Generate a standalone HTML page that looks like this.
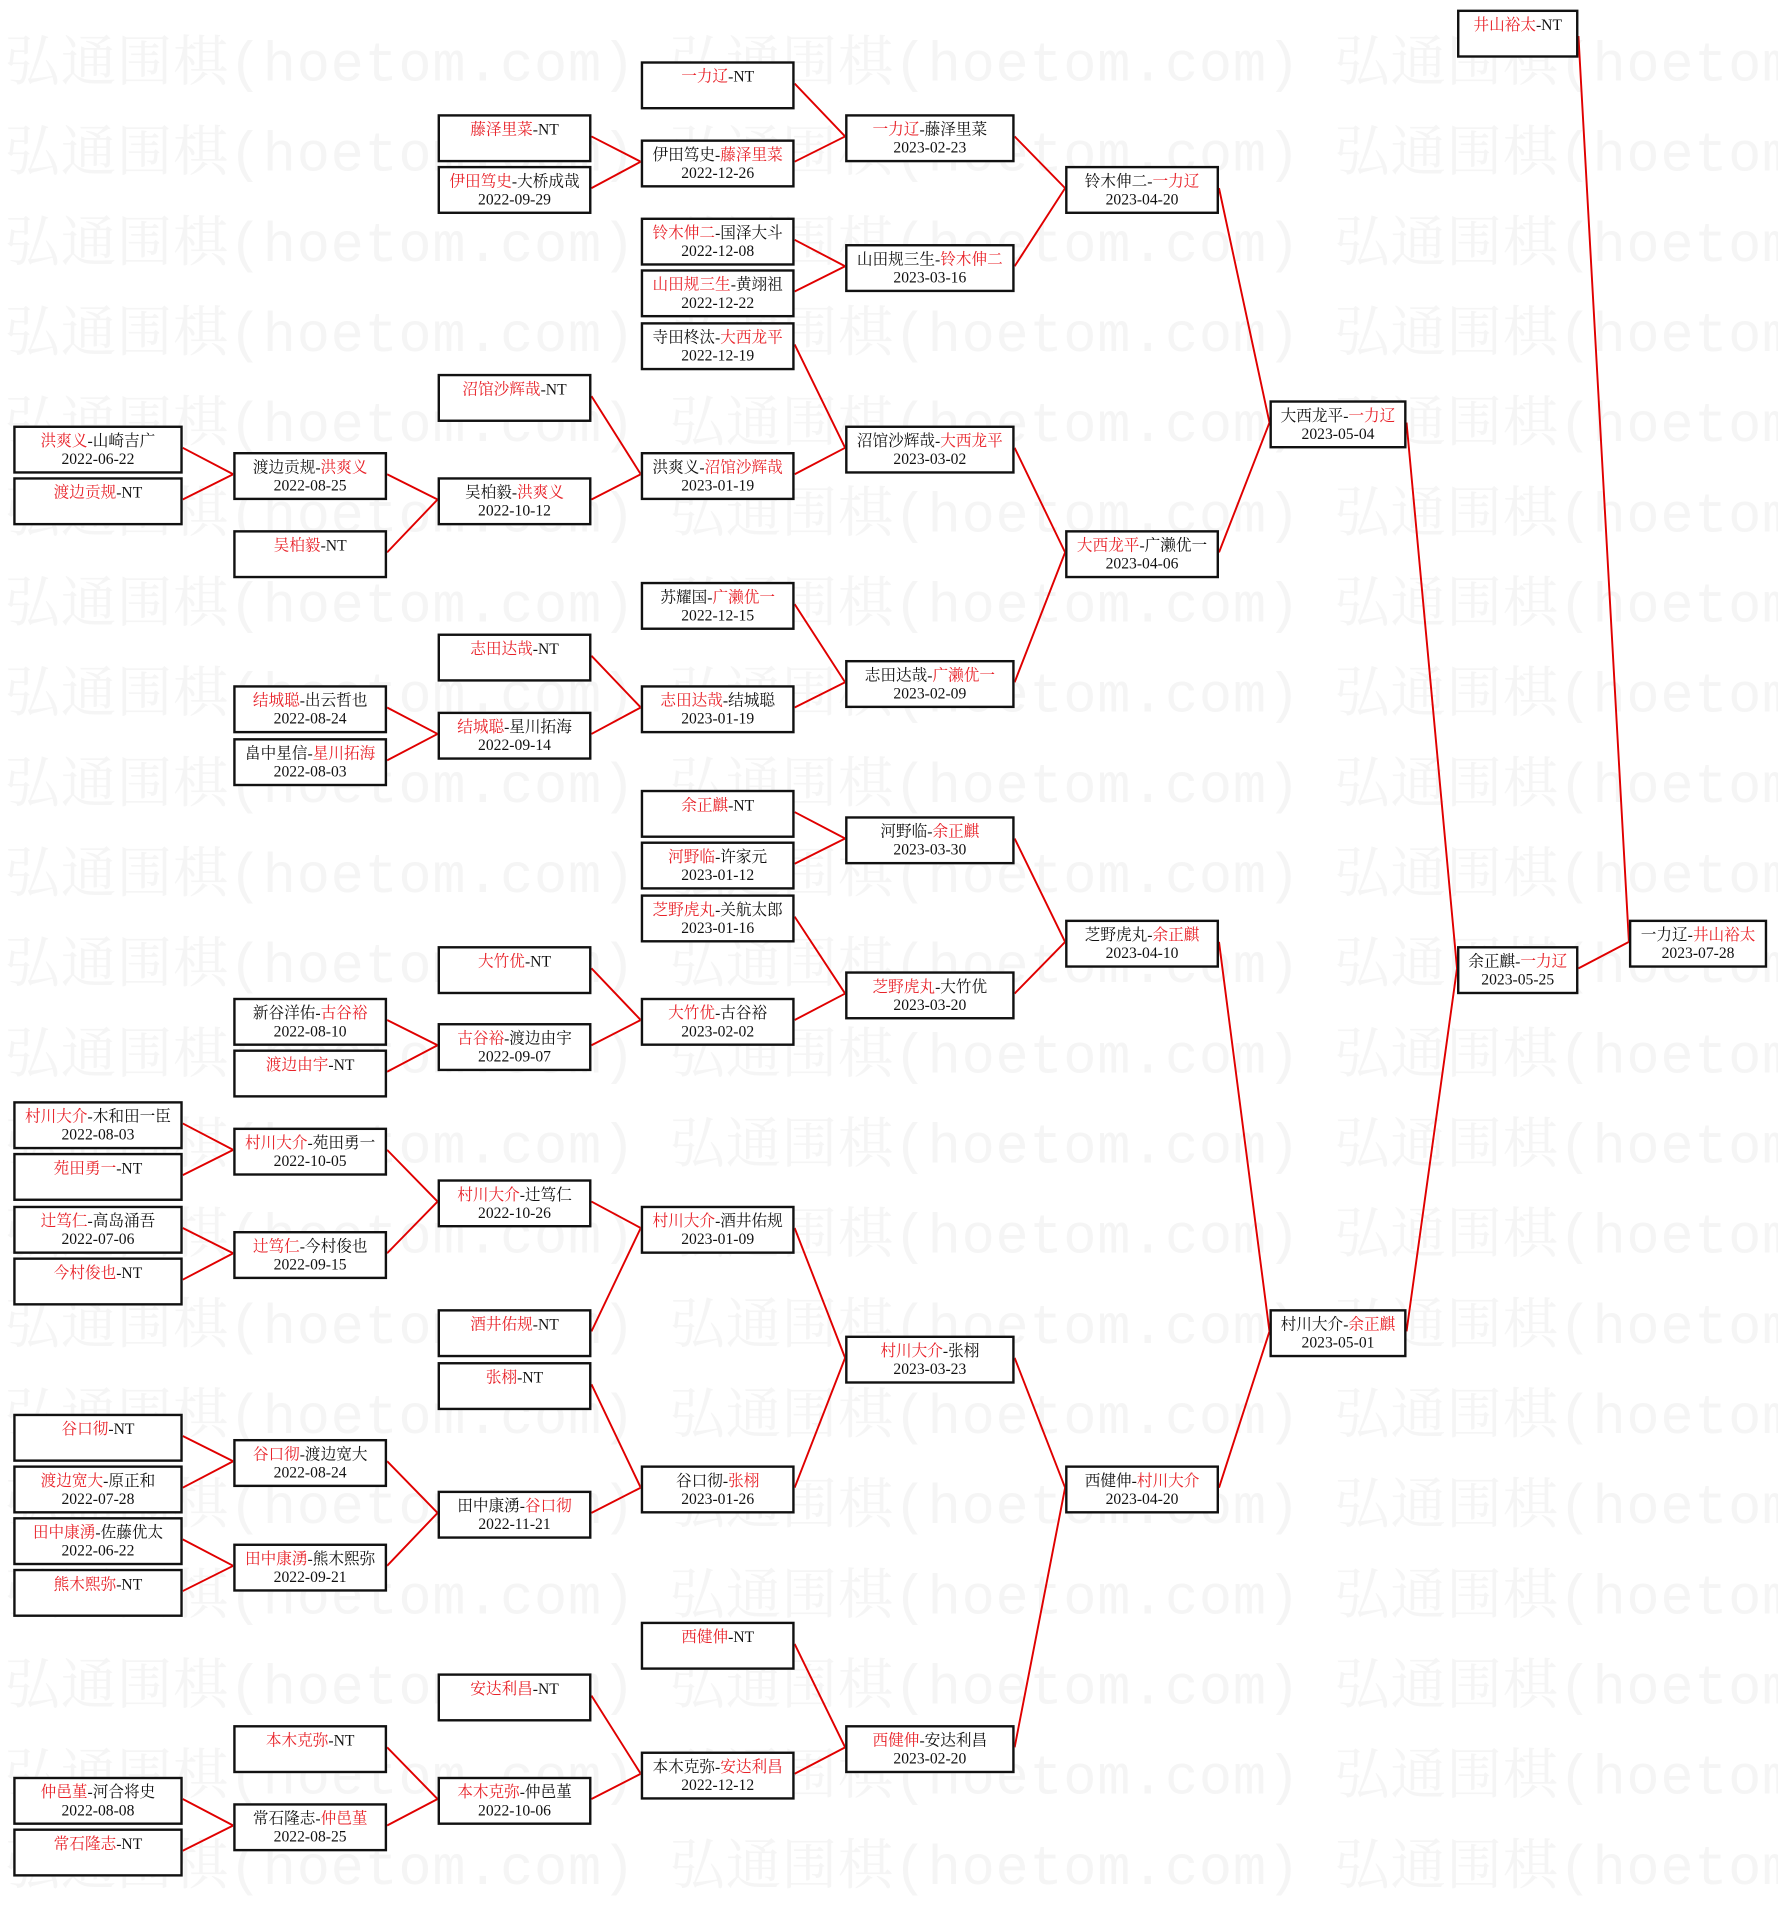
<!DOCTYPE html>
<html><head><meta charset="utf-8">
<style>
html,body{margin:0;padding:0;background:#fff;}
body{width:1778px;height:1885px;overflow:hidden;position:relative;}
#s{position:absolute;left:0;top:0;width:1479px;height:1568px;transform:scale(1.20216);transform-origin:0 0;}
.wm{position:absolute;left:4px;white-space:pre;font-family:"Liberation Mono","Noto Serif CJK SC",monospace;font-size:46px;letter-spacing:0.6px;color:#f5f5f5;line-height:60px;}
.b{position:absolute;height:33px;border:2px solid #111;background:#fff;box-sizing:content-box;text-align:center;font-family:"Liberation Serif","Noto Serif CJK SC",serif;font-size:13px;line-height:15px;padding-top:3px;color:#111;white-space:nowrap;overflow:hidden;}
.r{color:#e8232a;}
.c0{left:11px;width:137px}.c1{left:194px;width:124px}.c2{left:364px;width:124px}.c3{left:533px;width:124px}
.c4{left:703px;width:137px}.c5{left:886px;width:124px}.c6{left:1056px;width:110px}.c7{left:1212px;width:97px}.c8{left:1355px;width:111px}
svg{position:absolute;left:0;top:0;}
</style></head><body><div id="s">
<div class="wm" style="top:25px">弘通围棋(hoetom.com) 弘通围棋(hoetom.com) 弘通围棋(hoetom.com)</div>
<div class="wm" style="top:100px">弘通围棋(hoetom.com) 弘通围棋(hoetom.com) 弘通围棋(hoetom.com)</div>
<div class="wm" style="top:175px">弘通围棋(hoetom.com) 弘通围棋(hoetom.com) 弘通围棋(hoetom.com)</div>
<div class="wm" style="top:250px">弘通围棋(hoetom.com) 弘通围棋(hoetom.com) 弘通围棋(hoetom.com)</div>
<div class="wm" style="top:325px">弘通围棋(hoetom.com) 弘通围棋(hoetom.com) 弘通围棋(hoetom.com)</div>
<div class="wm" style="top:400px">弘通围棋(hoetom.com) 弘通围棋(hoetom.com) 弘通围棋(hoetom.com)</div>
<div class="wm" style="top:475px">弘通围棋(hoetom.com) 弘通围棋(hoetom.com) 弘通围棋(hoetom.com)</div>
<div class="wm" style="top:550px">弘通围棋(hoetom.com) 弘通围棋(hoetom.com) 弘通围棋(hoetom.com)</div>
<div class="wm" style="top:625px">弘通围棋(hoetom.com) 弘通围棋(hoetom.com) 弘通围棋(hoetom.com)</div>
<div class="wm" style="top:700px">弘通围棋(hoetom.com) 弘通围棋(hoetom.com) 弘通围棋(hoetom.com)</div>
<div class="wm" style="top:775px">弘通围棋(hoetom.com) 弘通围棋(hoetom.com) 弘通围棋(hoetom.com)</div>
<div class="wm" style="top:850px">弘通围棋(hoetom.com) 弘通围棋(hoetom.com) 弘通围棋(hoetom.com)</div>
<div class="wm" style="top:925px">弘通围棋(hoetom.com) 弘通围棋(hoetom.com) 弘通围棋(hoetom.com)</div>
<div class="wm" style="top:1000px">弘通围棋(hoetom.com) 弘通围棋(hoetom.com) 弘通围棋(hoetom.com)</div>
<div class="wm" style="top:1075px">弘通围棋(hoetom.com) 弘通围棋(hoetom.com) 弘通围棋(hoetom.com)</div>
<div class="wm" style="top:1150px">弘通围棋(hoetom.com) 弘通围棋(hoetom.com) 弘通围棋(hoetom.com)</div>
<div class="wm" style="top:1225px">弘通围棋(hoetom.com) 弘通围棋(hoetom.com) 弘通围棋(hoetom.com)</div>
<div class="wm" style="top:1300px">弘通围棋(hoetom.com) 弘通围棋(hoetom.com) 弘通围棋(hoetom.com)</div>
<div class="wm" style="top:1375px">弘通围棋(hoetom.com) 弘通围棋(hoetom.com) 弘通围棋(hoetom.com)</div>
<div class="wm" style="top:1450px">弘通围棋(hoetom.com) 弘通围棋(hoetom.com) 弘通围棋(hoetom.com)</div>
<div class="wm" style="top:1525px">弘通围棋(hoetom.com) 弘通围棋(hoetom.com) 弘通围棋(hoetom.com)</div>

<svg width="1479" height="1568" viewBox="0 0 1479 1568"><g stroke="#e00000" stroke-width="1.6" fill="none">
<path d="M661 69.5L703 113.5M661 134.5L703 113.5M661 199.5L703 221.5M661 242.5L703 221.5M661 286.5L703 372.5M661 394.5L703 372.5M661 502.5L703 567.5M661 588.5L703 567.5M661 675.5L703 697.5M661 718.5L703 697.5M661 762.5L703 826.5M661 848.5L703 826.5M661 1021.5L703 1129.5M661 1237.5L703 1129.5M661 1367.5L703 1453.5M661 1475.5L703 1453.5"/>
<path d="M492 113.5L533 134.5M492 156.5L533 134.5M492 329.5L533 394.5M492 415.5L533 394.5M492 545.5L533 588.5M492 610.5L533 588.5M492 805.5L533 848.5M492 869.5L533 848.5M492 999.5L533 1021.5M492 1107.5L533 1021.5M492 1151.5L533 1237.5M492 1258.5L533 1237.5M492 1410.5L533 1475.5M492 1496.5L533 1475.5"/>
<path d="M322 394.5L364 415.5M322 459.5L364 415.5M322 588.5L364 610.5M322 632.5L364 610.5M322 848.5L364 869.5M322 891.5L364 869.5M322 956.5L364 999.5M322 1042.5L364 999.5M322 1215.5L364 1258.5M322 1302.5L364 1258.5M322 1453.5L364 1496.5M322 1518.5L364 1496.5"/>
<path d="M152 372.5L194 394.5M152 415.5L194 394.5M152 934.5L194 956.5M152 977.5L194 956.5M152 1021.5L194 1042.5M152 1064.5L194 1042.5M152 1194.5L194 1215.5M152 1237.5L194 1215.5M152 1280.5L194 1302.5M152 1323.5L194 1302.5M152 1496.5L194 1518.5M152 1539.5L194 1518.5"/>
<path d="M844 113.5L886 156.5M844 221.5L886 156.5M844 372.5L886 459.5M844 567.5L886 459.5M844 697.5L886 783.5M844 826.5L886 783.5M844 1129.5L886 1237.5M844 1453.5L886 1237.5"/>
<path d="M1014 156.5L1056 351.5M1014 459.5L1056 351.5M1014 783.5L1056 1107.5M1014 1237.5L1056 1107.5"/>
<path d="M1170 351.5L1212 805.5M1170 1107.5L1212 805.5M1313 30L1355 783.5M1313 805.5L1355 783.5"/>
</g></svg>

<div class="b c0" style="top:354px"><span class="r">洪爽义</span>-山崎吉广<br>2022-06-22</div>
<div class="b c0" style="top:397px"><span class="r">渡边贡规</span>-NT</div>
<div class="b c0" style="top:916px"><span class="r">村川大介</span>-木和田一臣<br>2022-08-03</div>
<div class="b c0" style="top:959px"><span class="r">苑田勇一</span>-NT</div>
<div class="b c0" style="top:1003px"><span class="r">辻笃仁</span>-高岛涌吾<br>2022-07-06</div>
<div class="b c0" style="top:1046px"><span class="r">今村俊也</span>-NT</div>
<div class="b c0" style="top:1176px"><span class="r">谷口彻</span>-NT</div>
<div class="b c0" style="top:1219px"><span class="r">渡边宽大</span>-原正和<br>2022-07-28</div>
<div class="b c0" style="top:1262px"><span class="r">田中康湧</span>-佐藤优太<br>2022-06-22</div>
<div class="b c0" style="top:1305px"><span class="r">熊木熙弥</span>-NT</div>
<div class="b c0" style="top:1478px"><span class="r">仲邑堇</span>-河合将史<br>2022-08-08</div>
<div class="b c0" style="top:1521px"><span class="r">常石隆志</span>-NT</div>
<div class="b c1" style="top:376px">渡边贡规-<span class="r">洪爽义</span><br>2022-08-25</div>
<div class="b c1" style="top:441px"><span class="r">吴柏毅</span>-NT</div>
<div class="b c1" style="top:570px"><span class="r">结城聪</span>-出云哲也<br>2022-08-24</div>
<div class="b c1" style="top:614px">畠中星信-<span class="r">星川拓海</span><br>2022-08-03</div>
<div class="b c1" style="top:830px">新谷洋佑-<span class="r">古谷裕</span><br>2022-08-10</div>
<div class="b c1" style="top:873px"><span class="r">渡边由宇</span>-NT</div>
<div class="b c1" style="top:938px"><span class="r">村川大介</span>-苑田勇一<br>2022-10-05</div>
<div class="b c1" style="top:1024px"><span class="r">辻笃仁</span>-今村俊也<br>2022-09-15</div>
<div class="b c1" style="top:1197px"><span class="r">谷口彻</span>-渡边宽大<br>2022-08-24</div>
<div class="b c1" style="top:1284px"><span class="r">田中康湧</span>-熊木熙弥<br>2022-09-21</div>
<div class="b c1" style="top:1435px"><span class="r">本木克弥</span>-NT</div>
<div class="b c1" style="top:1500px">常石隆志-<span class="r">仲邑堇</span><br>2022-08-25</div>
<div class="b c2" style="top:95px"><span class="r">藤泽里菜</span>-NT</div>
<div class="b c2" style="top:138px"><span class="r">伊田笃史</span>-大桥成哉<br>2022-09-29</div>
<div class="b c2" style="top:311px"><span class="r">沼馆沙辉哉</span>-NT</div>
<div class="b c2" style="top:397px">吴柏毅-<span class="r">洪爽义</span><br>2022-10-12</div>
<div class="b c2" style="top:527px"><span class="r">志田达哉</span>-NT</div>
<div class="b c2" style="top:592px"><span class="r">结城聪</span>-星川拓海<br>2022-09-14</div>
<div class="b c2" style="top:787px"><span class="r">大竹优</span>-NT</div>
<div class="b c2" style="top:851px"><span class="r">古谷裕</span>-渡边由宇<br>2022-09-07</div>
<div class="b c2" style="top:981px"><span class="r">村川大介</span>-辻笃仁<br>2022-10-26</div>
<div class="b c2" style="top:1089px"><span class="r">酒井佑规</span>-NT</div>
<div class="b c2" style="top:1133px"><span class="r">张栩</span>-NT</div>
<div class="b c2" style="top:1240px">田中康湧-<span class="r">谷口彻</span><br>2022-11-21</div>
<div class="b c2" style="top:1392px"><span class="r">安达利昌</span>-NT</div>
<div class="b c2" style="top:1478px"><span class="r">本木克弥</span>-仲邑堇<br>2022-10-06</div>
<div class="b c3" style="top:51px"><span class="r">一力辽</span>-NT</div>
<div class="b c3" style="top:116px">伊田笃史-<span class="r">藤泽里菜</span><br>2022-12-26</div>
<div class="b c3" style="top:181px"><span class="r">铃木伸二</span>-国泽大斗<br>2022-12-08</div>
<div class="b c3" style="top:224px"><span class="r">山田规三生</span>-黄翊祖<br>2022-12-22</div>
<div class="b c3" style="top:268px">寺田柊汰-<span class="r">大西龙平</span><br>2022-12-19</div>
<div class="b c3" style="top:376px">洪爽义-<span class="r">沼馆沙辉哉</span><br>2023-01-19</div>
<div class="b c3" style="top:484px">苏耀国-<span class="r">广濑优一</span><br>2022-12-15</div>
<div class="b c3" style="top:570px"><span class="r">志田达哉</span>-结城聪<br>2023-01-19</div>
<div class="b c3" style="top:657px"><span class="r">余正麒</span>-NT</div>
<div class="b c3" style="top:700px"><span class="r">河野临</span>-许家元<br>2023-01-12</div>
<div class="b c3" style="top:744px"><span class="r">芝野虎丸</span>-关航太郎<br>2023-01-16</div>
<div class="b c3" style="top:830px"><span class="r">大竹优</span>-古谷裕<br>2023-02-02</div>
<div class="b c3" style="top:1003px"><span class="r">村川大介</span>-酒井佑规<br>2023-01-09</div>
<div class="b c3" style="top:1219px">谷口彻-<span class="r">张栩</span><br>2023-01-26</div>
<div class="b c3" style="top:1349px"><span class="r">西健伸</span>-NT</div>
<div class="b c3" style="top:1457px">本木克弥-<span class="r">安达利昌</span><br>2022-12-12</div>
<div class="b c4" style="top:95px"><span class="r">一力辽</span>-藤泽里菜<br>2023-02-23</div>
<div class="b c4" style="top:203px">山田规三生-<span class="r">铃木伸二</span><br>2023-03-16</div>
<div class="b c4" style="top:354px">沼馆沙辉哉-<span class="r">大西龙平</span><br>2023-03-02</div>
<div class="b c4" style="top:549px">志田达哉-<span class="r">广濑优一</span><br>2023-02-09</div>
<div class="b c4" style="top:679px">河野临-<span class="r">余正麒</span><br>2023-03-30</div>
<div class="b c4" style="top:808px"><span class="r">芝野虎丸</span>-大竹优<br>2023-03-20</div>
<div class="b c4" style="top:1111px"><span class="r">村川大介</span>-张栩<br>2023-03-23</div>
<div class="b c4" style="top:1435px"><span class="r">西健伸</span>-安达利昌<br>2023-02-20</div>
<div class="b c5" style="top:138px">铃木伸二-<span class="r">一力辽</span><br>2023-04-20</div>
<div class="b c5" style="top:441px"><span class="r">大西龙平</span>-广濑优一<br>2023-04-06</div>
<div class="b c5" style="top:765px">芝野虎丸-<span class="r">余正麒</span><br>2023-04-10</div>
<div class="b c5" style="top:1219px">西健伸-<span class="r">村川大介</span><br>2023-04-20</div>
<div class="b c6" style="top:333px">大西龙平-<span class="r">一力辽</span><br>2023-05-04</div>
<div class="b c6" style="top:1089px">村川大介-<span class="r">余正麒</span><br>2023-05-01</div>
<div class="b c7" style="top:8px"><span class="r">井山裕太</span>-NT</div>
<div class="b c7" style="top:787px">余正麒-<span class="r">一力辽</span><br>2023-05-25</div>
<div class="b c8" style="top:765px">一力辽-<span class="r">井山裕太</span><br>2023-07-28</div>
</div></body></html>
